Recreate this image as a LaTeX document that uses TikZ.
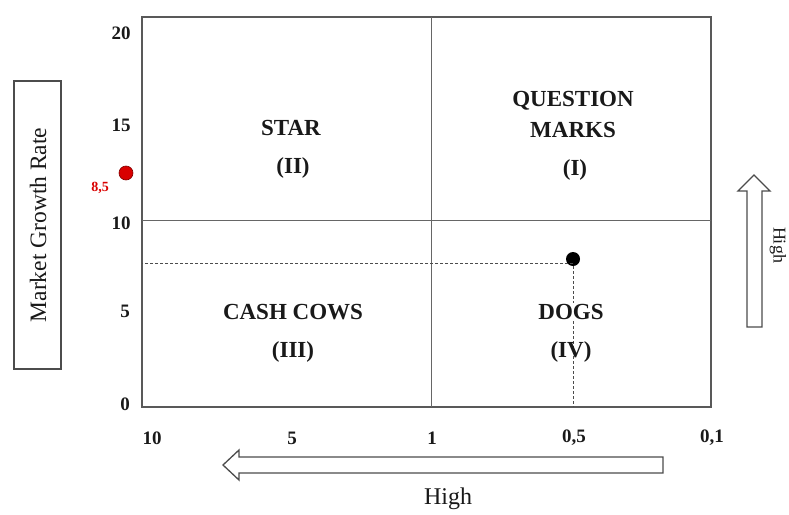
\documentclass[tikz,border=0pt]{standalone}
\usepackage{fontspec}
\setmainfont{Liberation Serif}
\begin{document}
\begin{tikzpicture}[x=1pt,y=-1pt,
  frame/.style={draw=black!65,line width=1.1pt},
  grid/.style={draw=black!60,line width=0.8pt},
  guide/.style={draw=black!70,line width=0.8pt,dashed,dash pattern=on 3pt off 2pt},
  quad/.style={font=\fontsize{23}{26}\selectfont\bfseries,text=black!90,inner sep=1pt},
  num/.style={font=\fontsize{19}{22}\selectfont\bfseries,text=black!90,inner sep=1pt},
  bigarrow/.style={draw=black!70,line width=1.3pt,fill=white,line join=miter}]
\useasboundingbox (0,0) rectangle (789,514);
% frame and dividers
\draw[frame] (142,17) rectangle (711,407);
\coordinate (top) at (431,17);
\coordinate (bot) at (431,407);
\coordinate (lft) at (142,220);
\coordinate (rgt) at (711,220);
\draw[grid] (top) -- (bot);
\draw[grid] (lft) -- (rgt);
% guide lines
\node[circle,fill=black,minimum size=14pt,inner sep=0pt] (pt) at (573,259) {};
\coordinate (gl) at (142,263);
\coordinate (gb) at (573,407);
\draw[guide] (pt.center) ++(0,4) -- (gl);
\draw[guide] (pt) -- (gb);
% red point
\node[circle,fill=red!85!black,draw=red!50!black,line width=0.6pt,minimum size=14pt,inner sep=0pt] (rp) at (126,173) {};
\node[font=\fontsize{14}{16}\selectfont\bfseries,text=red!85!black] (rl) at (100,188) {8,5};
% quadrant labels
\node[quad] (star) at (291,128) {STAR};
\node[quad] (starn) at (293,168) {(II)};
\node[quad] (qm1) at (573,101) {QUESTION};
\node[quad] (qm2) at (573,130) {MARKS};
\node[quad] (qmn) at (575,170) {(I)};
\node[quad] (cc) at (293,312) {CASH COWS};
\node[quad] (ccn) at (293,352) {(III)};
\node[quad,fill=white] (dg) at (571,312) {DOGS};
\node[quad] (dgn) at (571,352) {(IV)};
% y axis numbers
\node[num] (y20) at (121,33) {20};
\node[num] (y15) at (121,125) {15};
\node[num] (y10) at (121,223) {10};
\node[num] (y5) at (125,311) {5};
\node[num] (y0) at (125,404) {0};
% x axis numbers
\node[num] (x10) at (152,438) {10};
\node[num] (x5) at (292,438) {5};
\node[num] (x1) at (432,438) {1};
\node[num] (x05) at (574,438) {0,5};
\node[num] (x01) at (712,438) {0,1};
% left label box
\node[draw=black!70,line width=1.1pt,minimum width=47pt,minimum height=288pt,inner sep=0pt] (mgr) at (37.5,225) {};
\node[rotate=90,font=\fontsize{23.5}{26}\selectfont,text=black!90] (mgrt) at (38,225) {Market Growth Rate};
% bottom arrow
\draw[bigarrow] (663,457) -- (239,457) -- (239,450) -- (223,465) -- (239,480) -- (239,473) -- (663,473) -- cycle;
\node[font=\fontsize{24}{26}\selectfont,text=black!90] (hb) at (448,499) {High};
% right arrow
\draw[bigarrow] (747,327) -- (747,191) -- (738,191) -- (754,175) -- (770,191) -- (762,191) -- (762,327) -- cycle;
\node[rotate=-90,font=\fontsize{18}{20}\selectfont,text=black!90] (hr) at (778,245) {High};
\end{tikzpicture}
\end{document}
